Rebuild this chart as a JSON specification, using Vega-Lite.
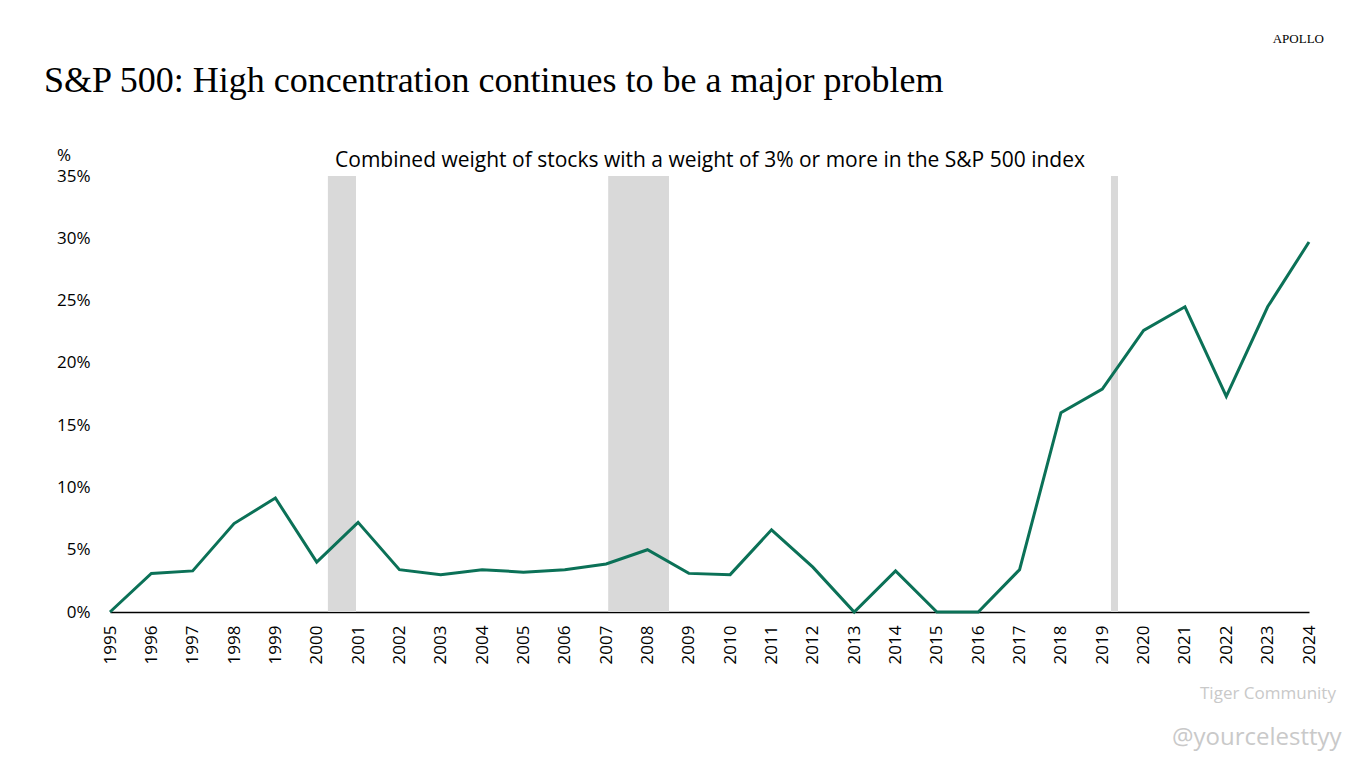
{
  "$schema": "https://vega.github.io/schema/vega-lite/v6.json",
  "autosize": "none",
  "width": 1199,
  "height": 436,
  "padding": {"left": 110, "top": 176, "right": 57, "bottom": 156},
  "background": "white",
  "config": {"view": {"stroke": null}, "font": "Open Sans"},
  "layer": [
    {
      "data": {"values": [
        {"start": 2000.27, "end": 2000.95},
        {"start": 2007.05, "end": 2008.52},
        {"start": 2019.21, "end": 2019.38}
      ]},
      "mark": {"type": "rect", "color": "#d9d9d9"},
      "encoding": {
        "x": {"field": "start", "type": "quantitative"},
        "x2": {"field": "end"}
      }
    },
    {
      "data": {"values": [
        {"year": 1995, "weight": 0},
        {"year": 1996, "weight": 3.1},
        {"year": 1997, "weight": 3.3},
        {"year": 1998, "weight": 7.1},
        {"year": 1999, "weight": 9.15},
        {"year": 2000, "weight": 4.0},
        {"year": 2001, "weight": 7.2},
        {"year": 2002, "weight": 3.4},
        {"year": 2003, "weight": 3.0},
        {"year": 2004, "weight": 3.4},
        {"year": 2005, "weight": 3.2},
        {"year": 2006, "weight": 3.4},
        {"year": 2007, "weight": 3.85},
        {"year": 2008, "weight": 5.0},
        {"year": 2009, "weight": 3.1},
        {"year": 2010, "weight": 3.0},
        {"year": 2011, "weight": 6.6},
        {"year": 2012, "weight": 3.6},
        {"year": 2013, "weight": 0},
        {"year": 2014, "weight": 3.3},
        {"year": 2015, "weight": 0},
        {"year": 2016, "weight": 0},
        {"year": 2017, "weight": 3.4},
        {"year": 2018, "weight": 16.0},
        {"year": 2019, "weight": 17.9},
        {"year": 2020, "weight": 22.6},
        {"year": 2021, "weight": 24.5},
        {"year": 2022, "weight": 17.3},
        {"year": 2023, "weight": 24.5},
        {"year": 2024, "weight": 29.7}
      ]},
      "mark": {"type": "line", "color": "#0b7157", "strokeWidth": 3, "strokeJoin": "miter"},
      "encoding": {
        "x": {
          "field": "year", "type": "quantitative",
          "scale": {"domain": [1995, 2024], "nice": false, "zero": false},
          "axis": {
            "title": null, "values": [1995,1996,1997,1998,1999,2000,2001,2002,2003,2004,2005,2006,2007,2008,2009,2010,2011,2012,2013,2014,2015,2016,2017,2018,2019,2020,2021,2022,2023,2024],
            "format": "d", "labelAngle": -90, "labelAlign": "right", "labelBaseline": "middle",
            "labelFontSize": 17, "labelColor": "#000000", "labelPadding": 13, "labelFlush": false,
            "labelOverlap": false, "ticks": false, "grid": false,
            "domainColor": "#000000", "domainWidth": 1.5
          }
        },
        "y": {
          "field": "weight", "type": "quantitative",
          "scale": {"domain": [0, 35], "nice": false},
          "axis": {
            "title": null, "values": [0,5,10,15,20,25,30,35],
            "labelExpr": "datum.value + '%'", "labelFontSize": 17, "labelColor": "#000000",
            "labelPadding": 20, "ticks": false, "domain": false, "grid": false
          }
        }
      }
    },
    {
      "data": {"values": [{}]},
      "mark": {"type": "text", "text": "S&P 500: High concentration continues to be a major problem", "font": "Liberation Serif", "fontSize": 36, "align": "left", "baseline": "alphabetic", "color": "#000000"},
      "encoding": {"x": {"value": -66}, "y": {"value": -84}}
    },
    {
      "data": {"values": [{}]},
      "mark": {"type": "text", "text": "APOLLO", "font": "Liberation Serif", "fontSize": 13, "align": "right", "baseline": "alphabetic", "color": "#000000"},
      "encoding": {"x": {"value": 1214}, "y": {"value": -133}}
    },
    {
      "data": {"values": [{}]},
      "mark": {"type": "text", "text": "Combined weight of stocks with a weight of 3% or more in the S&P 500 index", "font": "Open Sans", "fontSize": 21, "align": "center", "baseline": "alphabetic", "color": "#000000"},
      "encoding": {"x": {"value": 600}, "y": {"value": -9}}
    },
    {
      "data": {"values": [{}]},
      "mark": {"type": "text", "text": "%", "font": "Open Sans", "fontSize": 17, "align": "left", "baseline": "alphabetic", "color": "#000000"},
      "encoding": {"x": {"value": -53}, "y": {"value": -15}}
    },
    {
      "data": {"values": [{}]},
      "mark": {"type": "text", "text": "Tiger Community", "font": "Open Sans", "fontSize": 17, "align": "left", "baseline": "alphabetic", "color": "#c9c9c9"},
      "encoding": {"x": {"value": 1090}, "y": {"value": 523}}
    },
    {
      "data": {"values": [{}]},
      "mark": {"type": "text", "text": "@yourcelesttyy", "font": "Open Sans", "fontSize": 24, "align": "left", "baseline": "alphabetic", "color": "#c9c9c9"},
      "encoding": {"x": {"value": 1062}, "y": {"value": 569}}
    }
  ]
}
